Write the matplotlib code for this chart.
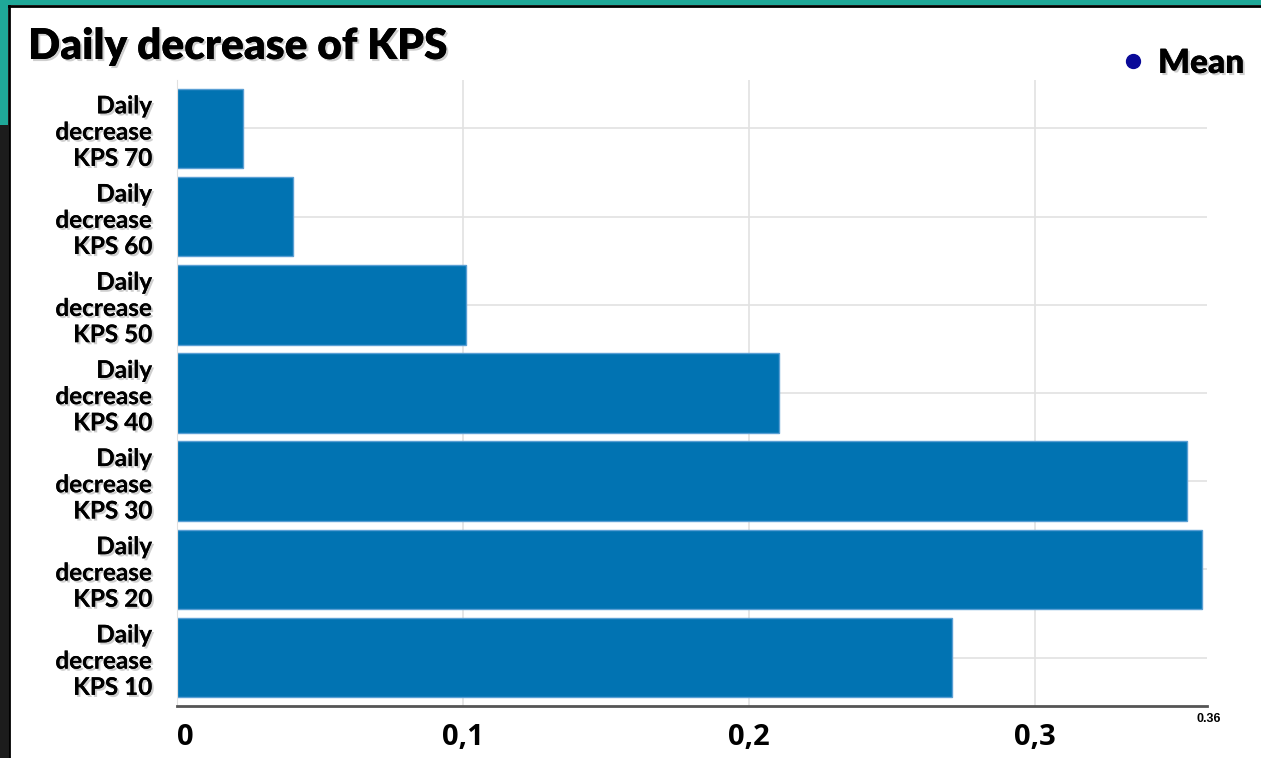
import matplotlib.pyplot as plt
import matplotlib.patheffects as pe
from matplotlib.patches import Rectangle
from matplotlib.lines import Line2D

# mean daily decrease per KPS level
categories = ["KPS 10", "KPS 20", "KPS 30", "KPS 40", "KPS 50", "KPS 60", "KPS 70"]
mean_values = [0.271, 0.3584, 0.3531, 0.2105, 0.101, 0.0406, 0.0231]
x_ticks = [0, 0.1, 0.2, 0.3]
x_tick_labels = ["0", "0,1", "0,2", "0,3"]
x_max = 0.36

W, H = 1261, 758
BAR = "#0173b2"
shadow = [pe.withSimplePatchShadow(offset=(1.5, -1.5), shadow_rgbFace="#777777", alpha=0.35),
          pe.Normal()]


def box(x0, y0, w, h, color):
    # rectangle given in pixels from the top-left corner
    return Rectangle((x0 / W, 1 - (y0 + h) / H), w / W, h / H, color=color,
                     transform=fig.transFigure, zorder=-10, lw=0)


fig = plt.figure(figsize=(W / 100, H / 100), dpi=100)
fig.patch.set_facecolor("white")

# slide frame around the chart
fig.add_artist(box(0, 0, W, 5, "#1fa898"))
fig.add_artist(box(0, 0, 8, 125, "#1fa898"))
fig.add_artist(box(0, 125, 8, H - 125, "#1c1c1c"))
fig.add_artist(Line2D([8.5 / W, 8.5 / W], [0, 1 - 5.5 / H], color="black", lw=2,
                      transform=fig.transFigure))
fig.add_artist(Line2D([8.5 / W, 1], [1 - 5.5 / H, 1 - 5.5 / H], color="black", lw=2,
                      transform=fig.transFigure))

ax = fig.add_axes([177 / W, 1 - 706 / H, 1030 / W, 626 / H])
y = range(len(categories))
ax.barh(y, mean_values, height=0.9, color=BAR, edgecolor="#5a9fd4", linewidth=1, zorder=2)

ax.set_xlim(0, x_max)
ax.set_ylim(-0.55, len(categories) - 0.45)
ax.set_xticks(x_ticks)
ax.set_xticklabels(x_tick_labels, fontfamily="Open Sans", fontweight="bold", fontsize=21)
ax.get_xticklabels()[0].set_ha("left")
ax.set_yticks(list(y))
ax.set_yticklabels(["Daily\ndecrease\n" + c for c in categories], fontfamily="Lato",
                   fontweight="bold", fontsize=17.5, linespacing=1.17)
for lab in ax.get_yticklabels():
    lab.set_path_effects(shadow)
ax.tick_params(axis="x", length=0, pad=12)
ax.tick_params(axis="y", length=0, pad=18)

ax.grid(True, color="#e2e2e2", lw=1.2, zorder=1)
ax.set_axisbelow(True)
for s in ["top", "right"]:
    ax.spines[s].set_visible(False)
ax.spines["left"].set_color("#e0e0e0")
ax.spines["bottom"].set_color("#555555")
ax.spines["bottom"].set_linewidth(2)
ax.spines["bottom"].set_zorder(3)

fig.text(1209 / W, 1 - 722 / H, "0.36", fontfamily="Liberation Sans", fontweight="bold",
         fontsize=9, ha="center", va="baseline")

fig.text(28 / W, 1 - 59 / H, "Daily decrease of KPS", fontfamily="Lato", fontweight="heavy",
         fontsize=30.5, va="baseline", path_effects=shadow)

# legend entry
fig.add_artist(Line2D([1133 / W], [1 - 61 / H], marker="o", markersize=10, color="#0a0a99",
                      transform=fig.transFigure))
fig.text(1158 / W, 1 - 73 / H, "Mean", fontfamily="Lato", fontweight="heavy", fontsize=24,
         va="baseline", path_effects=shadow)

fig.savefig("out.png", dpi=100)
